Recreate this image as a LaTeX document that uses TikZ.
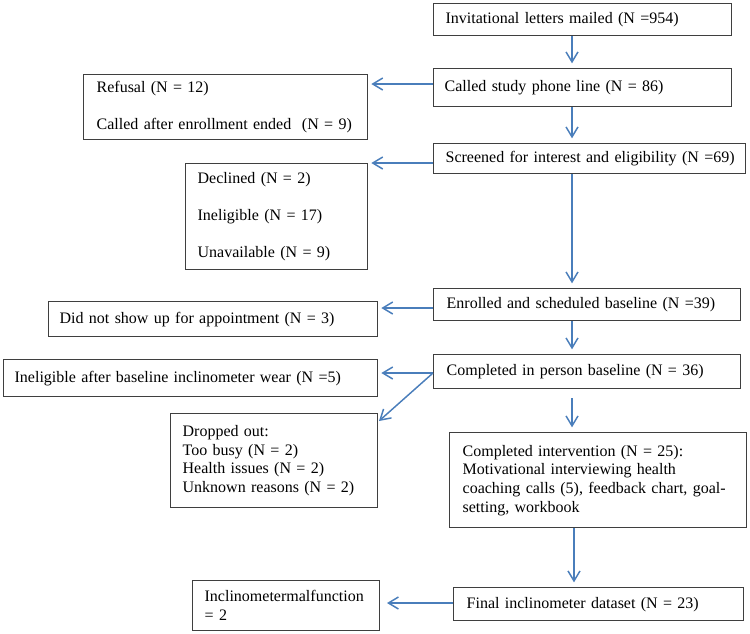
\documentclass[tikz,border=0pt]{standalone}
\usepackage{fontspec}
\setmainfont{Liberation Serif}
\usetikzlibrary{arrows.meta}
\definecolor{arrblue}{HTML}{4A7EBB}
\definecolor{boxgray}{HTML}{3F3F3F}
\begin{document}
\begin{tikzpicture}[x=0.75pt,y=-0.75pt,
  bx/.style={draw=boxgray, line width=1pt, anchor=north west, align=left,
    inner ysep=0pt, font=\fontsize{12}{14}\selectfont, text=black},
  arr/.style={draw=arrblue, line width=1.1pt,
    -{Straight Barb[length=7.5pt,width=9pt]}, shorten >=3.5pt},
  harr/.style={arr, shorten >=2.25pt}]
\useasboundingbox (0,0) rectangle (750,633);
% main column
\node[bx, minimum width=223.5pt, minimum height=24pt, inner xsep=9pt, text width=205.5pt] (inv) at (433,3) {\mbox{Invitational letters mailed (N =954)}};
\node[bx, minimum width=223.5pt, minimum height=28.5pt, inner xsep=8.25pt, text width=207pt] (call) at (433,68) {\mbox{Called study phone line (N = 86)}};
\node[bx, minimum width=234pt, minimum height=22.5pt, inner xsep=9pt, text width=216pt] (scr) at (433,143) {\mbox{Screened for interest and eligibility (N =69)}};
\node[bx, minimum width=230.25pt, minimum height=24pt, inner xsep=9.75pt, text width=210.75pt] (enr) at (433,288) {\mbox{Enrolled and scheduled baseline (N =39)}};
\node[bx, minimum width=230.25pt, minimum height=25.5pt, inner xsep=9.75pt, text width=210.75pt] (base) at (433,354) {\mbox{Completed in person baseline (N = 36)}};
\node[bx, minimum width=222.75pt, minimum height=71.25pt, inner xsep=9.75pt, text width=203.25pt] (int) at (449,432) {Completed intervention (N = 25):\\Motivational interviewing health\\coaching calls (5), feedback chart, goal-\\setting, workbook};
\node[bx, minimum width=217.5pt, minimum height=24.75pt, inner xsep=9.75pt, text width=198pt] (fin) at (453,587) {\mbox{Final inclinometer dataset (N = 23)}};
% side boxes
\node[bx, minimum width=213pt, minimum height=48.75pt, inner xsep=9.75pt, text width=193.5pt] (ref) at (83,74) {Refusal (N = 12)\\[14pt]\mbox{Called after enrollment ended\ \ (N = 9)}};
\node[bx, minimum width=136.5pt, minimum height=79.5pt, inner xsep=9pt, text width=118.5pt] (dec) at (185,163) {Declined (N = 2)\\[14pt]Ineligible (N = 17)\\[14pt]Unavailable (N = 9)};
\node[bx, minimum width=246.75pt, minimum height=26.25pt, inner xsep=8.25pt, text width=230.25pt] (dns) at (48,301) {\mbox{Did not show up for appointment (N = 3)}};
\node[bx, minimum width=280.5pt, minimum height=27.75pt, inner xsep=8.25pt, text width=264pt] (ine) at (3,359) {\mbox{Ineligible after baseline inclinometer wear (N =5)}};
\node[bx, minimum width=155.25pt, minimum height=70.5pt, inner xsep=9pt, text width=137.25pt] (drop) at (170,413) {Dropped out:\\Too busy (N = 2)\\Health issues (N = 2)\\Unknown reasons (N = 2)};
\node[bx, minimum width=140.25pt, minimum height=37.5pt, inner xsep=9pt, text width=122.25pt] (inc) at (192,580) {\mbox{Inclinometermalfunction}\\= 2};
% helper coordinates
\coordinate (ax) at (572,0);
\coordinate (ax2) at (574,0);
\coordinate (y84) at (0,84);
\coordinate (y163) at (0,163);
\coordinate (y308) at (0,308);
\coordinate (y373) at (0,373);
\coordinate (y603) at (0,603);
\coordinate (dtip) at (379,421);
% vertical connectors
\draw[arr] (inv.south -| ax) -- (call.north -| ax);
\draw[arr] (call.south -| ax) -- (scr.north -| ax);
\draw[arr] (scr.south -| ax) -- (enr.north -| ax);
\draw[arr] (enr.south -| ax) -- (base.north -| ax);
\draw[arr, shorten <=6.75pt] (base.south -| ax) -- (int.north -| ax);
\draw[arr] (int.south -| ax2) -- (fin.north -| ax2);
% horizontal connectors
\draw[harr] (call.west |- y84) -- (ref.east |- y84);
\draw[harr] (scr.west |- y163) -- (dec.east |- y163);
\draw[harr] (enr.west |- y308) -- (dns.east |- y308);
\draw[harr] (base.west |- y373) -- (ine.east |- y373);
\draw[arr, shorten >=0pt] (base.west |- y373) -- (dtip);
\draw[arr, shorten >=5pt] (fin.west |- y603) -- (inc.east |- y603);
\end{tikzpicture}
\end{document}
